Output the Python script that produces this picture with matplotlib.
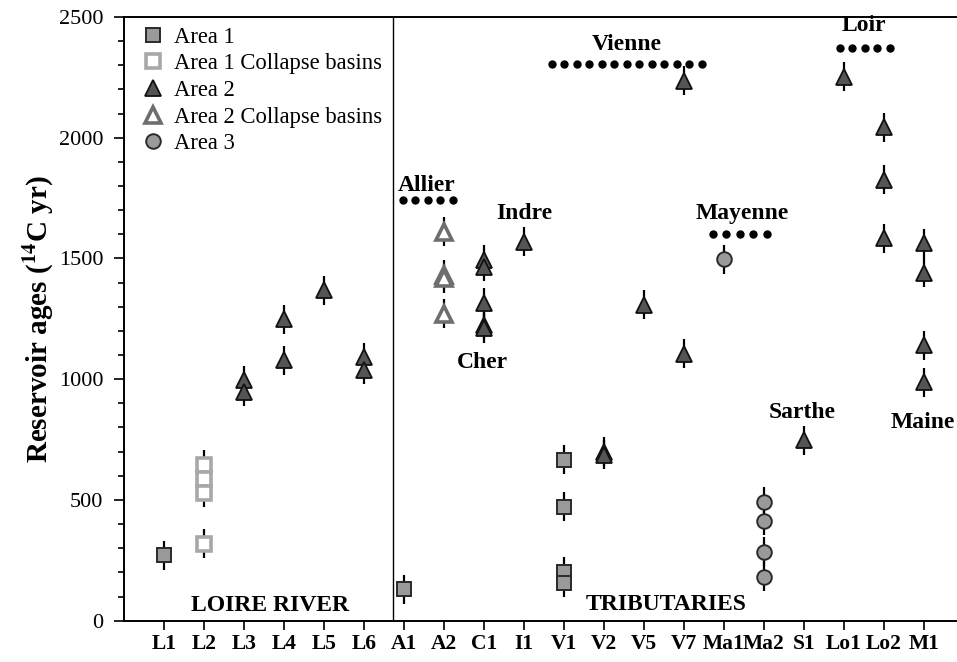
import matplotlib
matplotlib.use("Agg")
import matplotlib.pyplot as plt
import numpy as np

plt.rcParams.update({
    "font.family": "Liberation Serif",
    "mathtext.fontset": "stix",
    "axes.linewidth": 1.4,
})

# ----------------------------------------------------------------------
# data
# ----------------------------------------------------------------------
sites = ["L1", "L2", "L3", "L4", "L5", "L6", "A1", "A2", "C1", "I1",
         "V1", "V2", "V5", "V7", "Ma1", "Ma2", "S1", "Lo1", "Lo2", "M1"]

area1_sites = ["L1", "A1", "V1", "V1", "V1", "V1"]
area1_ages = [270, 130, 666, 472, 202, 157]

area1c_sites = ["L2", "L2", "L2", "L2"]
area1c_ages = [645, 587, 529, 318]

area2_sites = ["L3", "L3", "L4", "L4", "L5", "L6", "L6",
               "C1", "C1", "C1", "C1", "C1", "I1", "V2", "V2", "V5",
               "V7", "V7", "S1", "Lo1", "Lo2", "Lo2", "Lo2",
               "M1", "M1", "M1", "M1"]
area2_ages = [995, 948, 1248, 1078, 1368, 1090, 1040,
              1494, 1465, 1317, 1225, 1210, 1570, 700, 688, 1308,
              2235, 1105, 748, 2253, 2044, 1826, 1584,
              1563, 1440, 1140, 988]

area2c_sites = ["A2", "A2", "A2", "A2"]
area2c_ages = [1610, 1432, 1418, 1272]

area3_sites = ["Ma1", "Ma2", "Ma2", "Ma2", "Ma2"]
area3_ages = [1497, 493, 413, 285, 181]

age_err = 60

# river group labels and dotted brackets (x0, x1, y, number of dots)
river_names = ["Allier", "Indre", "Cher", "Vienne", "Mayenne", "Sarthe", "Loir", "Maine"]
river_x = [6.57, 9.0, 7.97, 11.57, 14.45, 15.97, 17.5, 18.97]
river_y = [1800, 1688, 1068, 2385, 1688, 862, 2465, 820]

brackets = [(5.97, 7.22, 1740, 5), (9.7, 13.45, 2305, 13),
            (13.72, 15.07, 1600, 5), (16.9, 18.15, 2372, 5)]

# ----------------------------------------------------------------------
fig = plt.figure(figsize=(9.57, 6.62), dpi=100)
ax = fig.add_axes([0.1296, 0.0624, 0.8704, 0.912])

xpos = {s: i for i, s in enumerate(sites)}


def series(site_list, ages, **kw):
    x = [xpos[s] for s in site_list]
    ax.errorbar(x, ages, yerr=age_err, fmt="none", ecolor="black",
                elinewidth=1.6, capsize=0, zorder=2)
    return ax.plot(x, ages, linestyle="none", zorder=3, **kw)[0]


h1 = series(area1_sites, area1_ages, marker="s", ms=10,
            mfc="#9a9a9a", mec="#2a2a2a", mew=1.4, label="Area 1")
h1c = series(area1c_sites, area1c_ages, marker="s", ms=10,
             mfc="white", mec="#a8a8a8", mew=2.6, label="Area 1 Collapse basins")
h2 = series(area2_sites, area2_ages, marker="^", ms=11.5,
            mfc="#555555", mec="#111111", mew=1.3, label="Area 2")
h2c = series(area2c_sites, area2c_ages, marker="^", ms=11.5,
             mfc="white", mec="#6e6e6e", mew=2.6, label="Area 2 Collapse basins")
h3 = series(area3_sites, area3_ages, marker="o", ms=10.5,
            mfc="#9a9a9a", mec="#2a2a2a", mew=1.4, label="Area 3")

# dotted river brackets
for x0, x1, y, n in brackets:
    ax.plot(np.linspace(x0, x1, n), [y] * n, linestyle="none", marker="o",
            ms=5, color="black", zorder=3)

for name, x, y in zip(river_names, river_x, river_y):
    ax.text(x, y, name, ha="center", va="center", fontsize=17,
            fontweight="bold")

ax.text(2.65, 62, "LOIRE RIVER", ha="center", va="center",
        fontsize=17, fontweight="bold")
ax.text(12.55, 65, "TRIBUTARIES", ha="center", va="center",
        fontsize=17, fontweight="bold")

# divider between main stem and tributaries
ax.axvline(5.72, color="black", lw=1.0, zorder=1)

# axes
ax.set_xlim(-1, 19.83)
ax.set_ylim(0, 2500)
ax.set_xticks(range(len(sites)))
ax.set_xticklabels(sites, fontsize=15.5, fontweight="bold")
ax.set_yticks(np.arange(0, 2501, 500))
ax.set_yticks(np.arange(0, 2501, 100), minor=True)
ax.tick_params(axis="y", which="major", direction="out", length=7,
               width=1.2, labelsize=16, pad=8)
ax.tick_params(axis="y", which="minor", direction="out", length=4.5,
               width=1.2)
ax.tick_params(axis="x", direction="out", length=6.5, width=1.2, pad=3)
ax.spines["right"].set_visible(False)

ax.set_ylabel(r"Reservoir ages ($\mathbf{^{14}}$C yr)", fontsize=21,
              fontweight="bold", labelpad=3)

ax.legend(handles=[h1, h1c, h2, h2c, h3], loc="upper left",
          bbox_to_anchor=(0.0, 1.01), frameon=False, fontsize=16.3,
          handletextpad=0.3, labelspacing=0.25, borderaxespad=0.3,
          handlelength=1.2)

fig.savefig("out.png", dpi=100)
